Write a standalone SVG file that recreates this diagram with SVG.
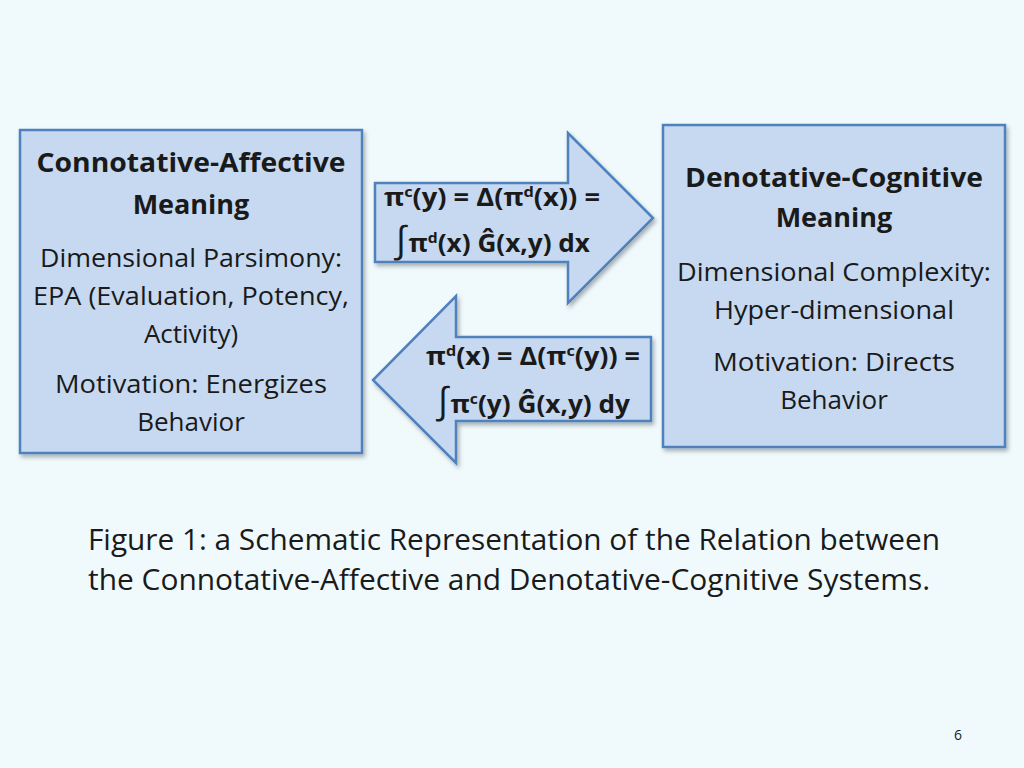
<svg xmlns="http://www.w3.org/2000/svg" width="1024" height="768" viewBox="0 0 1024 768">
<defs>
<filter id="sh" x="-5%" y="-5%" width="115%" height="115%"><feDropShadow dx="2" dy="3" stdDeviation="2" flood-color="#000" flood-opacity="0.3"/></filter>
</defs>
<style>
.box{fill:#C6D9F1;stroke:#4F81BD;stroke-width:2.5;filter:url(#sh)}
text{font-family:"Open Sans","Noto Sans",sans-serif;fill:#1a1a1a;text-anchor:middle}
.b{font-weight:bold;font-size:27px}
.n{font-size:26px}
.f{font-weight:bold;font-size:25px;text-anchor:start}
.cap{font-size:29px;text-anchor:start}
</style>
<rect width="1024" height="768" fill="#F0FAFD"/>
<g id="left-node">
<rect class="box" x="20" y="130" width="342" height="323"/>
<text class="b" x="191" y="172" textLength="309" lengthAdjust="spacingAndGlyphs">Connotative-Affective</text>
<text class="b" x="191" y="214">Meaning</text>
<text class="n" x="191" y="267" textLength="302" lengthAdjust="spacingAndGlyphs">Dimensional Parsimony:</text>
<text class="n" x="191" y="305" textLength="316" lengthAdjust="spacingAndGlyphs">EPA (Evaluation, Potency,</text>
<text class="n" x="191" y="343">Activity)</text>
<text class="n" x="191" y="393" textLength="272" lengthAdjust="spacingAndGlyphs">Motivation: Energizes</text>
<text class="n" x="191" y="431">Behavior</text>
</g>
<g id="right-node">
<rect class="box" x="663" y="125" width="342" height="322"/>
<text class="b" x="834" y="187" textLength="298" lengthAdjust="spacingAndGlyphs">Denotative-Cognitive</text>
<text class="b" x="834" y="227">Meaning</text>
<text class="n" x="834" y="281" textLength="314" lengthAdjust="spacingAndGlyphs">Dimensional Complexity:</text>
<text class="n" x="834" y="319" textLength="240" lengthAdjust="spacingAndGlyphs">Hyper-dimensional</text>
<text class="n" x="834" y="371" textLength="242" lengthAdjust="spacingAndGlyphs">Motivation: Directs</text>
<text class="n" x="834" y="409">Behavior</text>
</g>
<g id="connectors">
<polygon class="box" points="375,183 568,183 568,133 653,218 568,303 568,262 375,262"/>
<text class="f" x="384" y="206" textLength="216" lengthAdjust="spacingAndGlyphs">π<tspan font-size="15" dy="-9">c</tspan><tspan dy="9">(y) = Δ(π</tspan><tspan font-size="15" dy="-9">d</tspan><tspan dy="9">(x)) =</tspan></text>
<text class="f" x="394" y="252" textLength="196" lengthAdjust="spacingAndGlyphs"><tspan font-size="36" font-weight="normal">∫</tspan>π<tspan font-size="15" dy="-9">d</tspan><tspan dy="9">(x) Ĝ(x,y) dx</tspan></text>
<polygon class="box" points="651,337 456,337 456,296 373,380 456,463 456,421 651,421"/>
<text class="f" x="426" y="365" textLength="214" lengthAdjust="spacingAndGlyphs">π<tspan font-size="15" dy="-9">d</tspan><tspan dy="9">(x) = Δ(π</tspan><tspan font-size="15" dy="-9">c</tspan><tspan dy="9">(y)) =</tspan></text>
<text class="f" x="436" y="413" textLength="194" lengthAdjust="spacingAndGlyphs"><tspan font-size="36" font-weight="normal">∫</tspan>π<tspan font-size="15" dy="-9">c</tspan><tspan dy="9">(y) Ĝ(x,y) dy</tspan></text>
</g>
<text class="cap" x="88" y="550" textLength="852" lengthAdjust="spacingAndGlyphs">Figure 1: a Schematic Representation of the Relation between</text>
<text class="cap" x="88" y="590" textLength="842" lengthAdjust="spacingAndGlyphs">the Connotative-Affective and Denotative-Cognitive Systems.</text>
<text x="958" y="740" font-size="14" fill="#777">6</text>
</svg>
